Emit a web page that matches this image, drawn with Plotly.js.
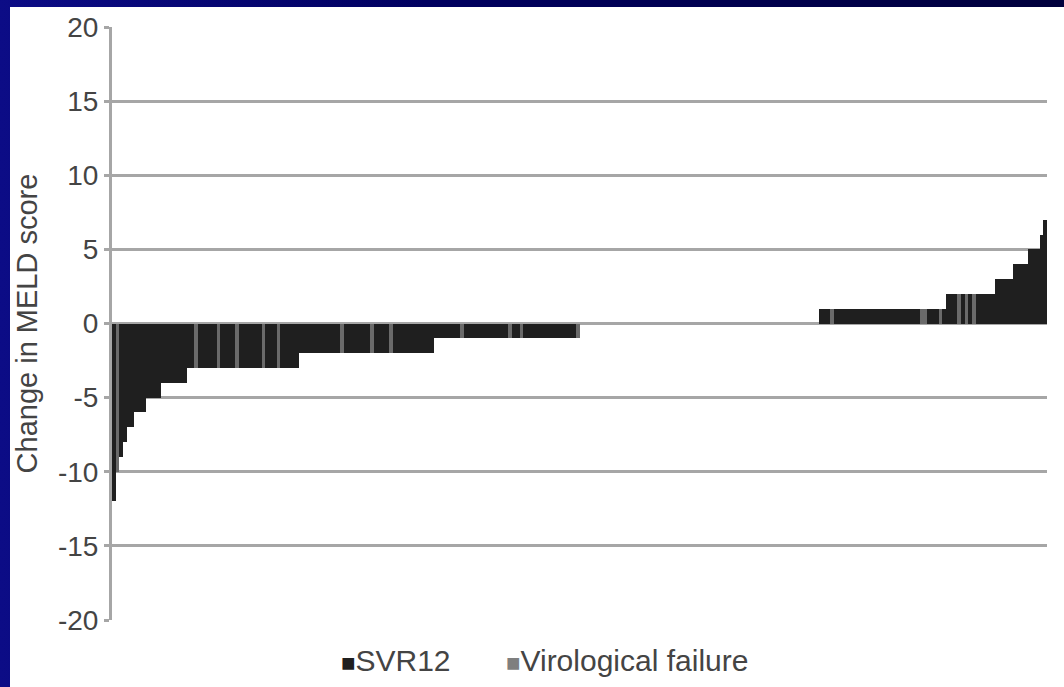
<!DOCTYPE html>
<html>
<head>
<meta charset="utf-8">
<script src="https://cdn.plot.ly/plotly-3.0.1.min.js"></script>
<style>
  html, body { margin: 0; padding: 0; width: 1064px; height: 687px; overflow: hidden;
    background: linear-gradient(to right, #0c0c86 0%, #000060 40%, #00003c 100%); }
  #chart { position: absolute; left: 10px; top: 7px; width: 1054px; height: 680px; }
</style>
</head>
<body>
<div id="chart"></div>
<script>
// Change in MELD score per patient, sorted
const meldChange = [
  -12, -10, -9, -8, -7, -7, -6, -6, -6,
  -5, -5, -5, -5,
  -4, -4, -4, -4, -4, -4, -4,
  -3, -3, -3, -3, -3, -3, -3, -3, -3, -3, -3, -3, -3, -3, -3,
  -3, -3, -3, -3, -3, -3, -3, -3, -3, -3, -3, -3, -3, -3, -3,
  -2, -2, -2, -2, -2, -2, -2, -2, -2, -2, -2, -2, -2, -2, -2, -2, -2, -2,
  -2, -2, -2, -2, -2, -2, -2, -2, -2, -2, -2, -2, -2, -2, -2, -2, -2, -2,
  -1, -1, -1, -1, -1, -1, -1, -1, -1, -1, -1, -1, -1, -1, -1, -1, -1, -1, -1, -1,
  -1, -1, -1, -1, -1, -1, -1, -1, -1, -1, -1, -1, -1, -1, -1, -1, -1, -1, -1,
  0, 0, 0, 0, 0, 0, 0, 0, 0, 0, 0, 0, 0, 0, 0, 0,
  0, 0, 0, 0, 0, 0, 0, 0, 0, 0, 0, 0, 0, 0, 0, 0,
  0, 0, 0, 0, 0, 0, 0, 0, 0, 0, 0, 0, 0, 0, 0, 0,
  0, 0, 0, 0, 0, 0, 0, 0, 0, 0, 0, 0, 0, 0, 0, 0,
  1, 1, 1, 1, 1, 1, 1, 1, 1, 1, 1, 1, 1, 1, 1, 1, 1,
  1, 1, 1, 1, 1, 1, 1, 1, 1, 1, 1, 1, 1, 1, 1, 1, 1,
  2, 2, 2, 2, 2, 2, 2, 2, 2, 2, 2, 2, 2,
  3, 3, 3, 3, 3,
  4, 4, 4, 4,
  5, 5, 5,
  6,
  7
];
// Positions (patient index) of patients with virological failure
const virologicalFailure = [1, 22, 28, 33, 40, 44, 61, 69, 74, 93, 106, 109, 124,
  192, 216, 217, 221, 226, 228, 230];
const seriesNames = ["SVR12", "Virological failure"];
const yTicks = [-20, -15, -10, -5, 0, 5, 10, 15, 20];

const colSVR = "#1f1f1f";
const colVF = "#6a6a6a";
const txt = "#444444";
const grid = "#a6a6a6";
const font = "Liberation Sans, Arial, sans-serif";

const patients = meldChange.map((_, i) => i);
const vfSet = new Set(virologicalFailure);
const ySVR = meldChange.map((v, i) => vfSet.has(i) ? null : v);
const yVF = meldChange.map((v, i) => vfSet.has(i) ? v : null);

const traces = [
  { type: "bar", name: seriesNames[0], x: patients, y: ySVR,
    marker: { color: colSVR, line: { width: 0 } }, hoverinfo: "y" },
  { type: "bar", name: seriesNames[1], x: patients, y: yVF,
    marker: { color: colVF, line: { width: 0 } }, hoverinfo: "y" }
];

const layout = {
  width: 1054, height: 680,
  margin: { l: 102, r: 17, t: 20, b: 67 },
  paper_bgcolor: "#ffffff",
  plot_bgcolor: "#ffffff",
  barmode: "overlay",
  bargap: 0,
  showlegend: false,
  font: { family: font, color: txt, size: 28 },
  xaxis: {
    range: [-0.5, meldChange.length - 0.5],
    showticklabels: false, ticks: "", showgrid: false, zeroline: false, showline: false,
    fixedrange: true
  },
  yaxis: {
    range: [-20, 20], tickvals: yTicks, ticktext: yTicks.map(String),
    showgrid: true, gridcolor: grid, gridwidth: 3,
    zeroline: true, zerolinecolor: grid, zerolinewidth: 3,
    showline: true, linecolor: grid, linewidth: 3,
    ticks: "outside", ticklen: 5, tickwidth: 3, tickcolor: grid,
    tickfont: { family: font, size: 28, color: txt },
    title: { text: "Change in MELD score", font: { family: font, size: 29, color: txt }, standoff: 12 },
    fixedrange: true
  },
  annotations: [
    { xref: "paper", yref: "paper", x: 0.3037, y: -0.069, xanchor: "center", yanchor: "middle",
      showarrow: false, font: { family: font, size: 30, color: txt },
      text: '<span style="color:' + colSVR + ';font-size:24px">■</span>' + seriesNames[0] },
    { xref: "paper", yref: "paper", x: 0.5513, y: -0.069, xanchor: "center", yanchor: "middle",
      showarrow: false, font: { family: font, size: 30, color: txt },
      text: '<span style="color:#7f7f7f;font-size:24px">■</span>' + seriesNames[1] }
  ]
};

Plotly.newPlot("chart", traces, layout, { displayModeBar: false, staticPlot: true });
</script>
</body>
</html>
